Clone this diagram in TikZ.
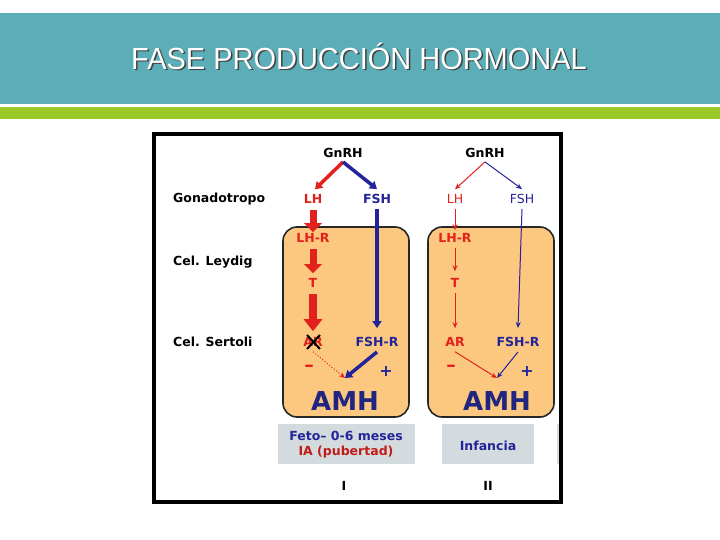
\documentclass[tikz,border=0pt]{standalone}
\usepackage{fontspec}
\setmainfont{DejaVu Sans}
\newfontfamily\titlefont{Liberation Sans}
\usetikzlibrary{arrows.meta}
\definecolor{teal1}{HTML}{5BAEB7}
\definecolor{green1}{HTML}{9AC828}
\definecolor{rd}{HTML}{E3211C}
\definecolor{bl}{HTML}{23249A}
\definecolor{amh}{HTML}{1F2580}
\definecolor{boxfill}{HTML}{FCC880}
\definecolor{graybox}{HTML}{D4DBDE}
\tikzset{
  lbl/.style={font=\bfseries\fontsize{12.5}{14}\selectfont, inner sep=0pt},
  rlbl/.style={lbl, text=rd},
  blbl/.style={lbl, text=bl},
  rthin/.style={font=\fontsize{12.5}{14}\selectfont, text=rd, inner sep=0pt},
  bthin/.style={font=\fontsize{12.5}{14}\selectfont, text=bl, inner sep=0pt},
  amhlbl/.style={font=\bfseries\fontsize{26}{28}\selectfont, text=amh, inner sep=0pt},
  signlbl/.style={font=\bfseries\fontsize{16}{16}\selectfont, inner sep=0pt},
  minuslbl/.style={font=\bfseries\fontsize{19}{19}\selectfont, inner sep=0pt},
  cellbox/.style={draw=black!85, line width=1.6pt, fill=boxfill, rounded corners=14pt},
  fatred/.style={rd, line width=7pt, -{Triangle[width=17pt,length=9pt]}},
  fatred2/.style={rd, line width=8.5pt, -{Triangle[width=18pt,length=12pt]}},
  blthick/.style={bl, line width=3.5pt, -{Triangle[width=9pt,length=7pt]}},
  rdthick/.style={rd, line width=3.5pt, -{Triangle[width=9pt,length=7pt]}},
  rdthin/.style={rd, line width=1pt, -{Stealth[width=5pt,length=6pt]}},
  blthin/.style={bl, line width=1pt, -{Stealth[width=5pt,length=6pt]}},
  titletext/.style={font=\titlefont\fontsize{30.5}{32}\selectfont, anchor=west, inner sep=0pt, xscale=0.95},
}
\begin{document}
\begin{tikzpicture}[x=1pt,y=-1pt]
\useasboundingbox (0,0) rectangle (720,540);
\fill[white] (0,0) rectangle (720,540);
% header bands
\fill[teal1] (0,13) rectangle (720,104);
\fill[green1] (0,107) rectangle (720,119);
\node[titletext, text=black!75] at (132.5,57.5) {FASE PRODUCCIÓN HORMONAL};
\node[titletext, text=white] (title) at (131,56) {FASE PRODUCCIÓN HORMONAL};

% frame
\draw[line width=3.5pt] (154,134) rectangle (561,502);

% cell boxes
\draw[cellbox] (283,227) rectangle (409,417);
\draw[cellbox] (428,227) rectangle (554,417);

% gray boxes
\fill[graybox] (278,424) rectangle (415,464);
\fill[graybox] (442,424) rectangle (534,464);
\fill[graybox] (556.5,424) rectangle (558.5,464);

% left labels
\node[lbl, anchor=west] (gon) at (173,199) {Gonadotropo};
\node[lbl, anchor=west] (ley) at (173,262) {Cel. Leydig};
\node[lbl, anchor=west] (ser) at (173,342) {Cel. Sertoli};

% column I
\node[lbl] (g1) at (343,153) {GnRH};
\node[rlbl] (lh1) at (313,199) {LH};
\node[blbl] (fsh1) at (377,199) {FSH};
\node[rlbl] (lhr1) at (313,238) {LH-R};
\node[rlbl] (t1) at (313,283) {T};
\node[rlbl] (ar1) at (313,342) {AR};
\node[blbl] (fshr1) at (377,342) {FSH-R};
\node[minuslbl, text=rd] (m1) at (309,368) {–};
\node[signlbl, text=bl] (p1) at (386,371) {+};
\node[amhlbl] (amh1) at (345,401) {AMH};
\coordinate (c1) at (345,378);

\draw[rdthick] ([yshift=-4pt]g1.south) -- ([xshift=2pt,yshift=5pt]lh1.north);
\draw[blthick] ([yshift=-4pt]g1.south) -- ([yshift=5pt]fsh1.north);
\draw[fatred] ([yshift=-6pt]lh1.south) -- ([yshift=1pt]lhr1.north);
\draw[fatred] ([yshift=-6pt]lhr1.south) -- ([yshift=5pt]t1.north);
\draw[fatred2] ([yshift=-6pt]t1.south) -- ([yshift=6pt]ar1.north);
\draw[blthick] ([yshift=-5pt]fsh1.south) -- ([yshift=9pt]fshr1.north);
\draw[rd, line width=1pt, dotted, -{Stealth[width=5pt,length=6pt]}] ([yshift=-5pt]ar1.south) -- (c1);
\draw[blthick] ([yshift=-5pt]fshr1.south) -- (c1);
% cross over AR
\draw[black, line width=2pt] (307,335) -- (320,349) (320,335) -- (307,349);

% column II
\node[lbl] (g2) at (485,153) {GnRH};
\node[rthin] (lh2) at (455,199) {LH};
\node[bthin] (fsh2) at (522,199) {FSH};
\node[rlbl] (lhr2) at (455,238) {LH-R};
\node[rlbl] (t2) at (455,283) {T};
\node[rlbl] (ar2) at (455,342) {AR};
\node[blbl] (fshr2) at (518,342) {FSH-R};
\node[minuslbl, text=rd] (m2) at (451,368) {–};
\node[signlbl, text=bl] (p2) at (527,371) {+};
\node[amhlbl] (amh2) at (497,401) {AMH};
\coordinate (c2) at (497,378);

\draw[rdthin] ([yshift=-4pt]g2.south) -- ([yshift=5pt]lh2.north);
\draw[blthin] ([yshift=-4pt]g2.south) -- ([yshift=5pt]fsh2.north);
\draw[rdthin] ([yshift=-5pt]lh2.south) -- ([yshift=3pt]lhr2.north);
\draw[rdthin] ([yshift=-5pt]lhr2.south) -- ([yshift=7pt]t2.north);
\draw[rdthin] ([yshift=-5pt]t2.south) -- ([yshift=9pt]ar2.north);
\draw[blthin] ([yshift=-5pt]fsh2.south) -- ([yshift=9pt]fshr2.north);
\draw[rdthin] ([yshift=-5pt]ar2.south) -- (c2);
\draw[blthin] ([yshift=-5pt]fshr2.south) -- (c2);

% period labels
\node[font=\bfseries\fontsize{12.5}{15}\selectfont, align=center, inner sep=0pt] (per1) at (346,445)
  {\textcolor{bl}{Feto– 0-6 meses}\\\textcolor{rd!85!black}{IA (pubertad)}};
\node[blbl] (per2) at (488,446) {Infancia};
\node[lbl] (r1) at (344,486) {I};
\node[lbl] (r2) at (488,486) {II};
\end{tikzpicture}
\end{document}
